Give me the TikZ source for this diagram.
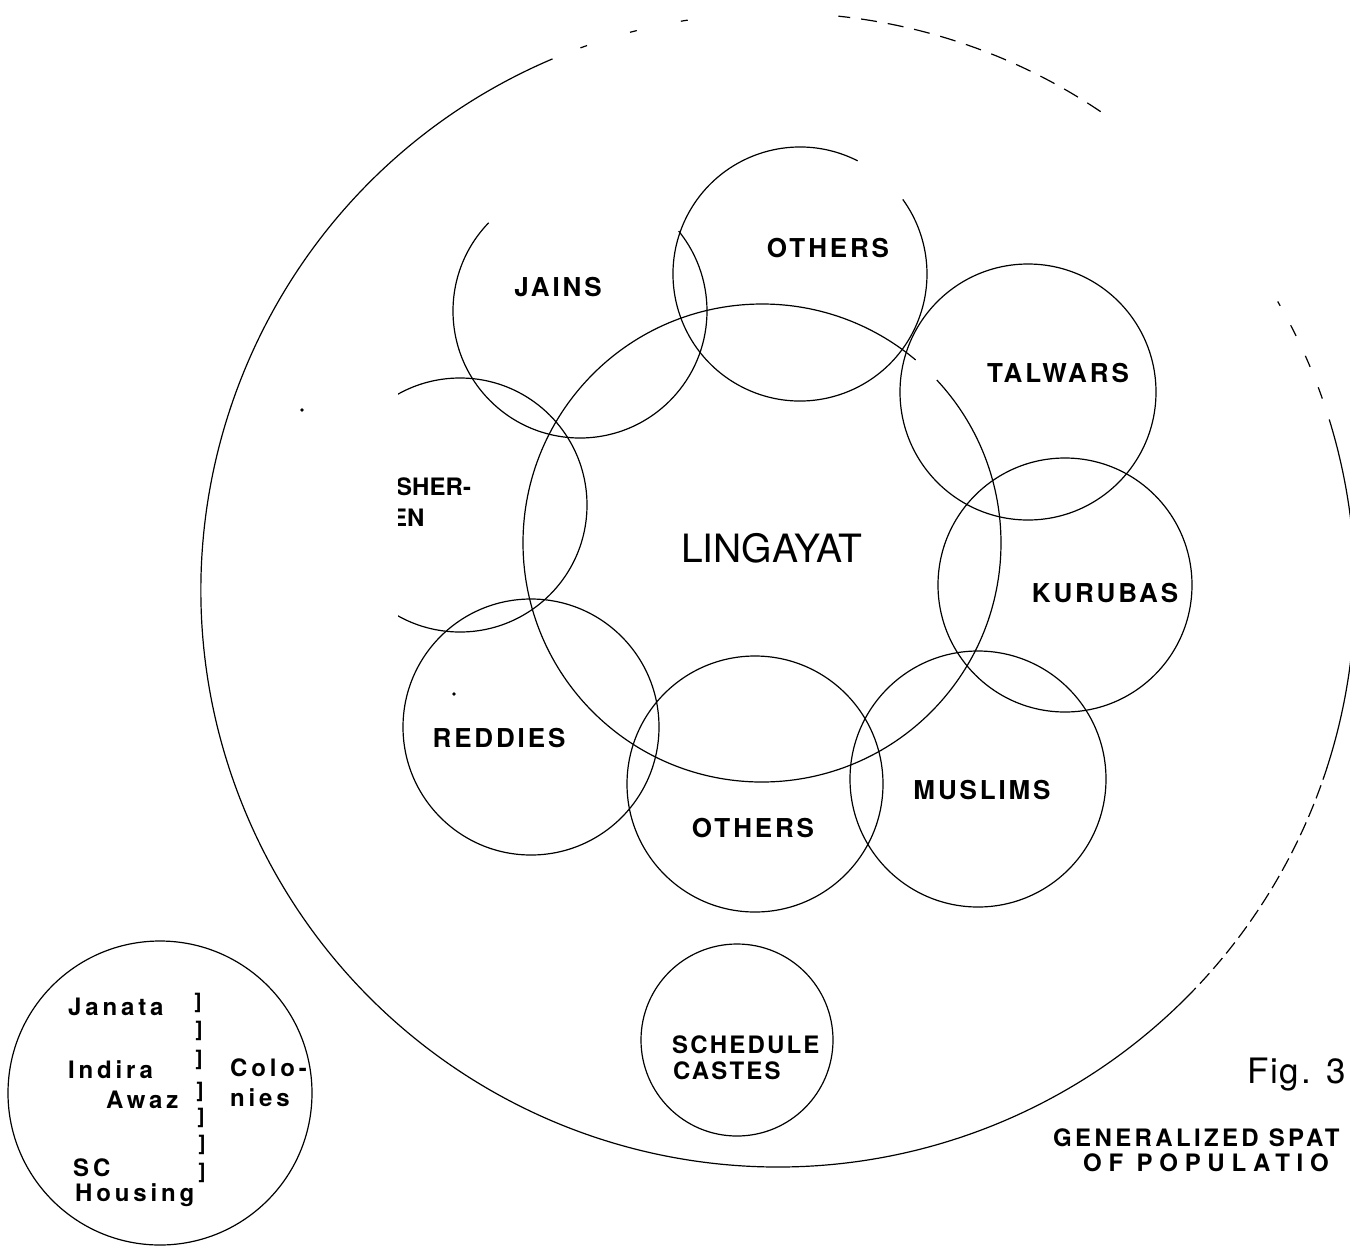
\documentclass[tikz,border=0pt]{standalone}
\usepackage{fontspec}
\setmainfont{TeX Gyre Heros}
\newfontfamily\labfont[LetterSpace=11]{TeX Gyre Heros}
\newfontfamily\schfont[LetterSpace=9]{TeX Gyre Heros}
\newfontfamily\colfont[LetterSpace=16]{TeX Gyre Heros}
\newfontfamily\capfont[LetterSpace=14]{TeX Gyre Heros}
\newfontfamily\capwfont[LetterSpace=28]{TeX Gyre Heros}
\newfontfamily\figfont[LetterSpace=5]{TeX Gyre Heros}
\begin{document}
\begin{tikzpicture}[x=1pt,y=-1pt,
  ring/.style={draw=black, line width=1.2pt},
  outer/.style={draw=black, line width=1.2pt},
  lab/.style={font=\labfont\bfseries\fontsize{26}{30}\selectfont, inner sep=0pt, anchor=center},
  schlab/.style={font=\schfont\bfseries\fontsize{24}{28}\selectfont, inner sep=0pt, anchor=west},
  lablft/.style={font=\colfont\bfseries\fontsize{24}{28}\selectfont, inner sep=0pt, anchor=west},
  brk/.style={font=\bfseries\fontsize{21}{24}\selectfont, inner sep=0pt, anchor=center},
  capt/.style={font=\capfont\bfseries\fontsize{24}{28}\selectfont, inner sep=0pt, anchor=west},
  captw/.style={font=\capwfont\bfseries\fontsize{24}{28}\selectfont, inner sep=0pt, anchor=west}
]
\useasboundingbox (0,0) rectangle (1350,1254);
\fill[white] (0,0) rectangle (1350,1254);

% centres
\coordinate (O) at (778,590);
\coordinate (ling) at (762,543);
\coordinate (jains) at (580,311);
\coordinate (othT) at (800,274);
\coordinate (talw) at (1028,392);
\coordinate (kuru) at (1065,585);
\coordinate (musl) at (978,779);
\coordinate (othB) at (755,784);
\coordinate (redd) at (531,727);
\coordinate (fish) at (460,505);
\coordinate (sched) at (737,1040);
\coordinate (colon) at (160,1093);

% outer settlement circle
\draw[outer] ([shift={(113:577pt)}]O) arc[start angle=113, end angle=315, radius=577pt];
\draw[outer, dash pattern=on 14pt off 6pt] ([shift={(-45:577pt)}]O) arc[start angle=-45, end angle=-19, radius=577pt];
\draw[outer] ([shift={(-19:577pt)}]O) arc[start angle=-19, end angle=16, radius=577pt];
\draw[outer, dash pattern=on 12pt off 22pt] ([shift={(16:577pt)}]O) arc[start angle=16, end angle=30, radius=577pt];
\draw[outer, dash pattern=on 16pt off 11pt] ([shift={(56:577pt)}]O) arc[start angle=56, end angle=84, radius=577pt];
\draw[outer, dash pattern=on 7pt off 45pt] ([shift={(99:577pt)}]O) arc[start angle=99, end angle=113, radius=577pt];

% Lingayat
\draw[ring] ([shift={(50:239pt)}]ling) arc[start angle=50, end angle=403, radius=239pt];
% Jains
\draw[ring] ([shift={(136:127pt)}]jains) arc[start angle=136, end angle=399, radius=127pt];
% Others (top)
\draw[ring] ([shift={(63:127pt)}]othT) arc[start angle=63, end angle=396, radius=127pt];
% Talwars, Kurubas, Muslims, Others (bottom), Reddies
\draw[ring] (talw) circle (128pt);
\draw[ring] (kuru) circle (127pt);
\draw[ring] (musl) circle (128pt);
\draw[ring] (othB) circle (128pt);
\draw[ring] (redd) circle (128pt);
% Fishermen (cut at the left)
\begin{scope}
  \clip (398,300) rectangle (700,700);
  \draw[ring] (fish) circle (127pt);
  \node[font=\bfseries\fontsize{24}{28}\selectfont, inner sep=0pt, anchor=west] (tFish1) at (396,487) {SHER-};
  \node[font=\bfseries\fontsize{24}{28}\selectfont, inner sep=0pt, anchor=west] (tFish2) at (391,518) {EN};
\end{scope}
% Schedule castes
\draw[ring] (sched) circle (96pt);
% Colonies
\draw[ring] (colon) circle (152pt);

% stray marks
\fill (302,410) circle (1.8pt);
\fill (454,694) circle (1.8pt);

% labels
\node[font=\fontsize{39}{44}\selectfont, inner sep=0pt] (tLing) at (772,548) {LINGAYAT};
\node[lab] (tJains) at (558,287) {JAINS};
\node[lab] (tOthT) at (828,248) {OTHERS};
\node[lab] (tTalw) at (1058,373) {TALWARS};
\node[lab] (tKuru) at (1105,593) {KURUBAS};
\node[lab] (tMusl) at (982,790) {MUSLIMS};
\node[lab] (tOthB) at (753,828) {OTHERS};
\node[lab] (tRedd) at (499,738) {REDDIES};
\node[schlab] (tSch1) at (672,1045) {SCHEDULE};
\node[schlab] (tSch2) at (673,1071) {CASTES};

% colonies legend
\node[lablft] (tJan) at (68,1007) {Janata};
\node[lablft] (tInd) at (68,1070) {Indira};
\node[lablft] (tAwa) at (106,1100) {Awaz};
\node[lablft] (tSC) at (73,1168) {SC};
\node[lablft] (tHou) at (75,1195) {Housing};
\node[lablft] (tCol1) at (230,1068) {Colo-};
\node[lablft] (tCol2) at (230,1098) {nies};
\node[brk] (b1) at (198,1003) {]};
\node[brk] (b2) at (199,1031) {]};
\node[brk] (b3) at (199,1060) {]};
\node[brk] (b4) at (200,1092) {]};
\node[brk] (b5) at (201,1118) {]};
\node[brk] (b6) at (202,1145) {]};
\node[brk] (b7) at (202,1173) {]};

% caption
\node[font=\figfont\fontsize{35}{40}\selectfont, inner sep=0pt, anchor=west] (tFig) at (1247,1075) {Fig. 3};
\node[capt] (tCap1) at (1053,1138) {GENERALIZED SPAT};
\node[captw] (tCap2) at (1083,1163) {OF POPULATIO};
\end{tikzpicture}
\end{document}
